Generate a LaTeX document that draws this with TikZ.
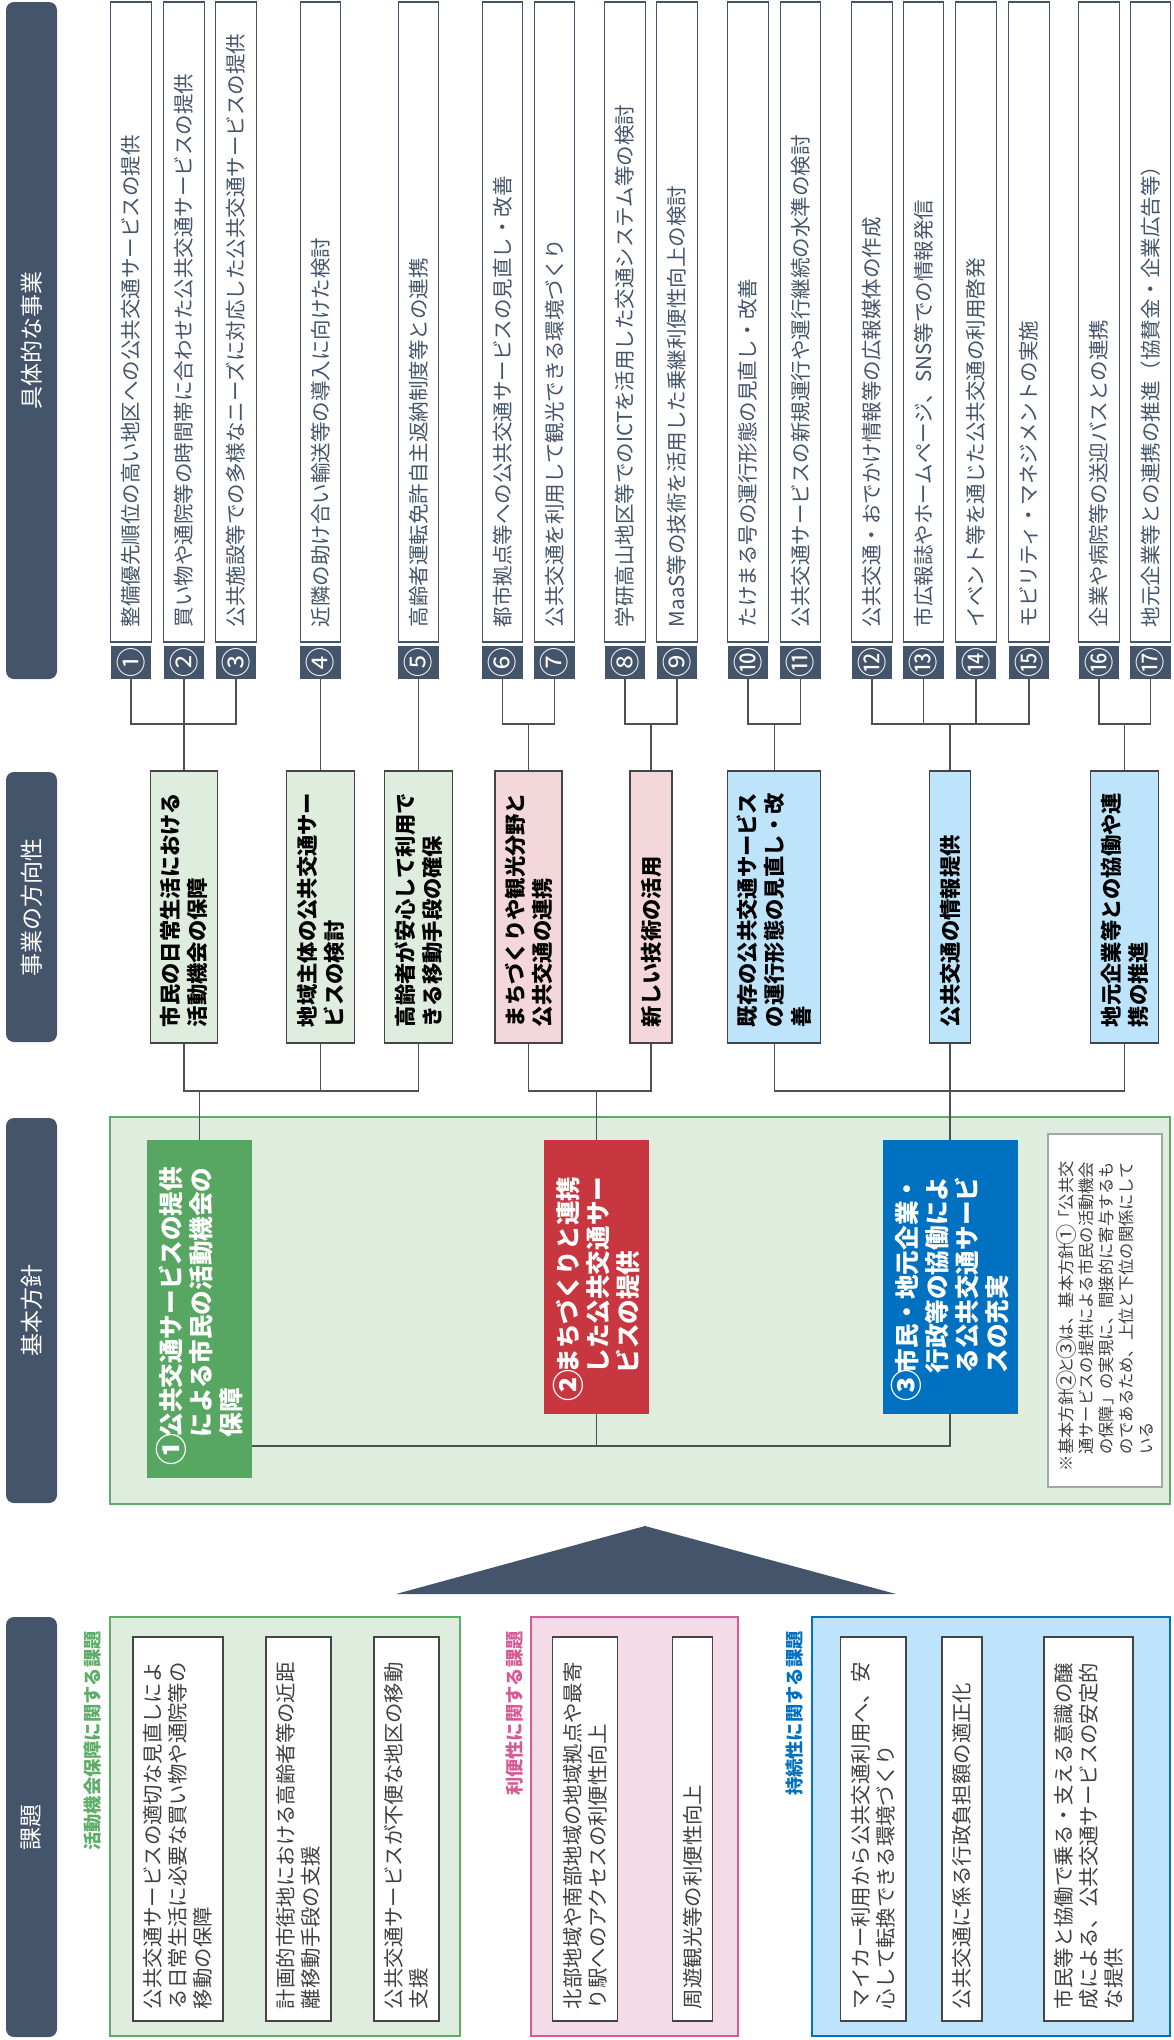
\documentclass[tikz,border=0pt]{standalone}
\usepackage{fontspec}
\usepackage{graphicx}
\setmainfont{Noto Sans CJK JP}
\definecolor{slate}{HTML}{44546A}
\definecolor{lgreen}{HTML}{DEEDDE}
\definecolor{mgreen}{HTML}{5BAD67}
\definecolor{pgreen}{HTML}{57A763}
\definecolor{dpink}{HTML}{F3D7DA}
\definecolor{ppink}{HTML}{F5DAE8}
\definecolor{mpink}{HTML}{D65A96}
\definecolor{lblue}{HTML}{BEE4FB}
\definecolor{mblue}{HTML}{0070C0}
\definecolor{pred}{HTML}{C8373F}
\definecolor{tgray}{HTML}{3F3F3F}
\definecolor{dgray}{HTML}{454545}
\definecolor{ngray}{HTML}{A6A6A6}
\definecolor{lnc}{HTML}{505050}
\newcommand\myfs[2]{\fontsize{#1}{#2}\selectfont}
\newcommand\mycirc[1]{\makebox[1em][c]{\raisebox{-0.1em}{\scalebox{1.3}{#1}}}}
\begin{document}
\begin{tikzpicture}[x=1pt,y=-1pt,
  rot/.style={rotate=90},
  hdr/.style={rot, fill=slate, rounded corners=8pt, text=white, font=\myfs{23}{28}, inner sep=0pt, minimum height=51pt},
  itembox/.style={rot, draw=slate, line width=1.4pt, fill=white, text=slate, font=\myfs{20.5}{24}, inner xsep=15pt, inner ysep=0pt, text width=610pt, align=left, minimum height=40.5pt},
  numbox/.style={rot, fill=slate, text=white, font=\myfs{30}{30}, inner sep=0pt, minimum width=33pt, minimum height=40.5pt},
  dirbox/.style={rot, draw=dgray, line width=1.4pt, font=\bfseries\myfs{21.3}{27}, inner xsep=16pt, inner ysep=0pt, text width=240pt, align=left},
  polbox/.style={rot, text=white, font=\bfseries\myfs{24.6}{30}, inner xsep=16pt, inner ysep=0pt, align=left},
  issbox/.style={rot, draw=dgray, line width=1.4pt, fill=white, text=tgray, font=\myfs{20.4}{25}, inner xsep=12pt, inner ysep=0pt, text width=360pt, align=left},
  lab/.style={rot, font=\bfseries\myfs{18.3}{22}, inner sep=0pt, anchor=east},
  conn/.style={draw=lnc, line width=1.2pt}
]
\useasboundingbox (0,0) rectangle (1173,2040);

% panels
\draw[fill=lgreen, draw=mgreen, line width=2pt] (110,1117) rectangle (1170,1504);
\draw[fill=lgreen, draw=mgreen, line width=2pt] (110,1616.5) rectangle (460,2036);
\draw[fill=ppink, draw=mpink, line width=2pt] (530.5,1616.5) rectangle (738,2036);
\draw[fill=lblue, draw=mblue, line width=2pt] (812,1616.5) rectangle (1170,2036);
\fill[slate] (396,1594) -- (645,1526) -- (896,1594) -- cycle;

% headers
\node[hdr, minimum width=677pt] (h1) at (31.5,340.5) {具体的な事業};
\node[hdr, minimum width=270pt] (h2) at (31.5,907) {事業の方向性};
\node[hdr, minimum width=385pt] (h3) at (31.5,1310.5) {基本方針};
\node[hdr, minimum width=420pt] (h4) at (31.5,1827) {課題};

% items
\node[itembox] (i1) at (131,322) {整備優先順位の高い地区への公共交通サービスの提供};
\node[itembox] (i2) at (184,322) {買い物や通院等の時間帯に合わせた公共交通サービスの提供};
\node[itembox] (i3) at (236,322) {公共施設等での多様なニーズに対応した公共交通サービスの提供};
\node[itembox] (i4) at (320.5,322) {近隣の助け合い輸送等の導入に向けた検討};
\node[itembox] (i5) at (418.5,322) {高齢者運転免許自主返納制度等との連携};
\node[itembox] (i6) at (502.5,322) {都市拠点等への公共交通サービスの見直し・改善};
\node[itembox] (i7) at (554.5,322) {公共交通を利用して観光できる環境づくり};
\node[itembox] (i8) at (625,322) {学研高山地区等でのICTを活用した交通システム等の検討};
\node[itembox] (i9) at (677,322) {MaaS等の技術を活用した乗継利便性向上の検討};
\node[itembox] (i10) at (748,322) {たけまる号の運行形態の見直し・改善};
\node[itembox] (i11) at (800.5,322) {公共交通サービスの新規運行や運行継続の水準の検討};
\node[itembox] (i12) at (872,322) {公共交通・おでかけ情報等の広報媒体の作成};
\node[itembox] (i13) at (923.5,322) {市広報誌やホームページ、SNS等での情報発信};
\node[itembox] (i14) at (976,322) {イベント等を通じた公共交通の利用啓発};
\node[itembox] (i15) at (1029,322) {モビリティ・マネジメントの実施};
\node[itembox] (i16) at (1099,322) {企業や病院等の送迎バスとの連携};
\node[itembox] (i17) at (1150.5,322) {地元企業等との連携の推進（協賛金・企業広告等）};

\node[numbox] (n1) at (131,662.5) {①};
\node[numbox] (n2) at (184,662.5) {②};
\node[numbox] (n3) at (236,662.5) {③};
\node[numbox] (n4) at (320.5,662.5) {④};
\node[numbox] (n5) at (418.5,662.5) {⑤};
\node[numbox] (n6) at (502.5,662.5) {⑥};
\node[numbox] (n7) at (554.5,662.5) {⑦};
\node[numbox] (n8) at (625,662.5) {⑧};
\node[numbox] (n9) at (677,662.5) {⑨};
\node[numbox] (n10) at (748,662.5) {⑩};
\node[numbox] (n11) at (800.5,662.5) {⑪};
\node[numbox] (n12) at (872,662.5) {⑫};
\node[numbox] (n13) at (923.5,662.5) {⑬};
\node[numbox] (n14) at (976,662.5) {⑭};
\node[numbox] (n15) at (1029,662.5) {⑮};
\node[numbox] (n16) at (1099,662.5) {⑯};
\node[numbox] (n17) at (1150.5,662.5) {⑰};

% directions
\node[dirbox, fill=lgreen, minimum height=67pt] (d1) at (184,907) {市民の日常生活における\\活動機会の保障};
\node[dirbox, fill=lgreen, minimum height=68pt] (d2) at (320.5,907) {地域主体の公共交通サー\\ビスの検討};
\node[dirbox, fill=lgreen, minimum height=68pt] (d3) at (418.5,907) {高齢者が安心して利用で\\きる移動手段の確保};
\node[dirbox, fill=dpink, minimum height=67pt] (d4) at (528.5,907) {まちづくりや観光分野と\\公共交通の連携};
\node[dirbox, fill=dpink, minimum height=42pt] (d5) at (651,907) {新しい技術の活用};
\node[dirbox, fill=lblue, minimum height=93pt] (d6) at (774.25,907) {既存の公共交通サービス\\の運行形態の見直し・改\\善};
\node[dirbox, fill=lblue, minimum height=41pt] (d7) at (950,907) {公共交通の情報提供};
\node[dirbox, fill=lblue, minimum height=68pt] (d8) at (1124.75,907) {地元企業等との協働や連\\携の推進};

% policies
\node[polbox, fill=pgreen, text width=306pt, minimum height=105pt] (p1) at (199.5,1309) {\mycirc{①}公共交通サービスの提供\\\hspace*{1em}による市民の活動機会の\\\hspace*{1em}保障};
\node[polbox, fill=pred, text width=242pt, minimum height=105pt] (p2) at (596.5,1277) {\mycirc{②}まちづくりと連携\\\hspace*{1em}した公共交通サー\\\hspace*{1em}ビスの提供};
\node[polbox, fill=mblue, text width=242pt, minimum height=135pt] (p3) at (950,1277) {\mycirc{③}市民・地元企業・\\\hspace*{1em}行政等の協働によ\\\hspace*{1em}る公共交通サービ\\\hspace*{1em}スの充実};

\node[rot, draw=ngray, line width=1.4pt, fill=white, text=tgray, font=\myfs{16.3}{20}, inner xsep=16pt, inner ysep=0pt, text width=321pt, align=left, minimum height=114pt] (note) at (1105,1310.5) {※基本方針\mycirc{②}と\mycirc{③}は、基本方針\mycirc{①}「公共交\\\hspace*{1em}通サービスの提供による市民の活動機会\\\hspace*{1em}の保障」の実現に、間接的に寄与するも\\\hspace*{1em}のであるため、上位と下位の関係にして\\\hspace*{1em}いる};

% issue labels
\node[lab, text=mgreen] (l1) at (93,1631) {活動機会保障に関する課題};
\node[lab, text=mpink] (l2) at (515,1631) {利便性に関する課題};
\node[lab, text=mblue] (l3) at (795,1631) {持続性に関する課題};

% issues
\node[issbox, minimum height=90pt] (g1) at (178,1829) {公共交通サービスの適切な見直しによ\\る日常生活に必要な買い物や通院等の\\移動の保障};
\node[issbox, minimum height=65pt] (g2) at (298.5,1829) {計画的市街地における高齢者等の近距\\離移動手段の支援};
\node[issbox, minimum height=65pt] (g3) at (406.5,1829) {公共交通サービスが不便な地区の移動\\支援};
\node[issbox, minimum height=64.6pt] (k1) at (585,1829) {北部地域や南部地域の地域拠点や最寄\\り駅へのアクセスの利便性向上};
\node[issbox, minimum height=40pt] (k2) at (692.3,1829) {周遊観光等の利便性向上};
\node[issbox, minimum height=65.3pt] (b1) at (873.3,1829) {マイカー利用から公共交通利用へ、安\\心して転換できる環境づくり};
\node[issbox, minimum height=40pt] (b2) at (962,1829) {公共交通に係る行政負担額の適正化};
\node[issbox, minimum height=89pt] (b3) at (1088.5,1829) {市民等と協働で乗る・支える意識の醸\\成による、公共交通サービスの安定的\\な提供};

% connectors items -> directions
\coordinate (j1) at (184,724);
\coordinate (j4) at (528.5,724);
\coordinate (j5) at (651,724);
\coordinate (j6) at (774.25,724);
\coordinate (j7) at (950,724);
\coordinate (j8) at (1124.75,724);
\draw[conn] (n1.west) |- (j1) -| (n3.west);
\draw[conn] (n2.west) -- (d1.east);
\draw[conn] (n4.west) -- (d2.east);
\draw[conn] (n5.west) -- (d3.east);
\draw[conn] (n6.west) |- (j4) -| (n7.west);
\draw[conn] (j4) -- (d4.east);
\draw[conn] (n8.west) |- (j5) -| (n9.west);
\draw[conn] (j5) -- (d5.east);
\draw[conn] (n10.west) |- (j6) -| (n11.west);
\draw[conn] (j6) -- (d6.east);
\draw[conn] (n12.west) |- (j7) -| (n15.west);
\draw[conn] (n13.west) -- (n13.west |- j7);
\draw[conn] (n14.west) -- (n14.west |- j7);
\draw[conn] (j7) -- (d7.east);
\draw[conn] (n16.west) |- (j8) -| (n17.west);
\draw[conn] (j8) -- (d8.east);

% directions -> policies
\coordinate (k1) at (199.5,1091);
\coordinate (k2) at (596.5,1091);
\coordinate (k3) at (950,1091);
\draw[conn] (d1.west) |- (k1) -| (d3.west);
\draw[conn] (d2.west) -- (d2.west |- k1);
\draw[conn] (k1) -- (p1.east);
\draw[conn] (d4.west) |- (k2) -| (d5.west);
\draw[conn] (k2) -- (p2.east);
\draw[conn] (d6.west) |- (k3) -| (d8.west);
\draw[conn] (d7.west) -- (d7.west |- k3);
\draw[conn] (k3) -- (p3.east);

% policies bottom link
\coordinate (m) at (950,1446);
\draw[conn] (p3.west) |- (p1.south |- m);
\draw[conn] (p2.west) -- (p2.west |- m);
\end{tikzpicture}
\end{document}
